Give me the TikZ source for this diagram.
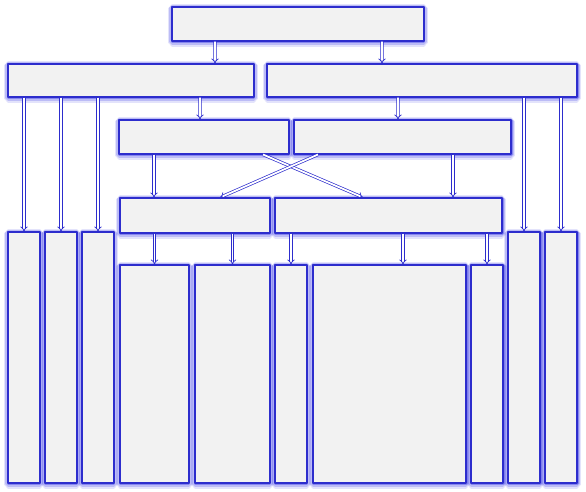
\documentclass[tikz,border=0pt]{standalone}
\usetikzlibrary{arrows.meta}
\definecolor{edgeblue}{RGB}{45,45,205}
\definecolor{glowblue}{RGB}{70,70,230}
\definecolor{boxgray}{RGB}{242,242,242}
\begin{document}
\begin{tikzpicture}[>=latex,line join=bevel,
    glow/.style={preaction={draw=glowblue,line width=9pt,opacity=.15,transform canvas={yshift=-1.5bp}},
                 preaction={draw=glowblue,line width=6pt,opacity=.25,transform canvas={yshift=-1bp}},
                 preaction={draw=glowblue,line width=3pt,opacity=.45,transform canvas={yshift=-0.5bp}}},
    blk/.style={rectangle,draw=edgeblue,fill=boxgray,line width=1.1pt,inner sep=0pt,glow},
    tall/.style={blk,minimum width=32bp,minimum height=251bp},
    short/.style={blk,minimum height=218bp},
    arr/.style={draw=edgeblue,double=white,double distance=1.8pt,line width=0.7pt,
                -{Implies[scale=1.8]}},
  ]
    \useasboundingbox (0,0) rectangle (586bp,492bp);
    %%
    \node (top) at (298.0bp,468.0bp) [blk,minimum width=252bp,minimum height=34bp] {};
    \node (l2a) at (131.0bp,411.5bp) [blk,minimum width=246bp,minimum height=33bp] {};
    \node (l2b) at (422.0bp,411.5bp) [blk,minimum width=310bp,minimum height=33bp] {};
    \node (l3a) at (204.0bp,355.0bp) [blk,minimum width=170bp,minimum height=34bp] {};
    \node (l3b) at (402.5bp,355.0bp) [blk,minimum width=217bp,minimum height=34bp] {};
    \node (l4a) at (195.0bp,276.5bp) [blk,minimum width=150bp,minimum height=35bp] {};
    \node (l4b) at (388.5bp,276.5bp) [blk,minimum width=227bp,minimum height=35bp] {};
    %
    \node (b1) at (24.0bp,134.5bp) [tall] {};
    \node (b2) at (61.0bp,134.5bp) [tall] {};
    \node (b3) at (98.0bp,134.5bp) [tall] {};
    \node (b4) at (154.5bp,118.0bp) [short,minimum width=69bp] {};
    \node (b5) at (232.5bp,118.0bp) [short,minimum width=75bp] {};
    \node (b6) at (291.0bp,118.0bp) [short,minimum width=32bp] {};
    \node (b7) at (389.5bp,118.0bp) [short,minimum width=153bp] {};
    \node (b8) at (487.0bp,118.0bp) [short,minimum width=32bp] {};
    \node (b9) at (524.0bp,134.5bp) [tall] {};
    \node (b10) at (561.0bp,134.5bp) [tall] {};
    %
    \draw [arr] ([xshift=-83bp]top.south) -- ([xshift=84bp]l2a.north);
    \draw [arr] ([xshift=84bp]top.south) -- ([xshift=-40bp]l2b.north);
    \draw [arr] ([xshift=69bp]l2a.south) -- ([xshift=-4bp]l3a.north);
    \draw [arr] ([xshift=-24bp]l2b.south) -- ([xshift=-4.5bp]l3b.north);
    \draw [arr] (l2a.south -| b1.north) -- (b1.north);
    \draw [arr] (l2a.south -| b2.north) -- (b2.north);
    \draw [arr] (l2a.south -| b3.north) -- (b3.north);
    \draw [arr] (l2b.south -| b9.north) -- (b9.north);
    \draw [arr] (l2b.south -| b10.north) -- (b10.north);
    \draw [arr] ([xshift=-50bp]l3a.south) -- ([xshift=-41bp]l4a.north);
    \draw [arr] ([xshift=50.5bp]l3b.south) -- ([xshift=64.5bp]l4b.north);
    \draw [arr] ([xshift=59bp]l3a.south) -- ([xshift=-25.5bp]l4b.north);
    \draw [arr] ([xshift=-84.5bp]l3b.south) -- ([xshift=25bp]l4a.north);
    \draw [arr] (l4a.south -| b4.north) -- (b4.north);
    \draw [arr] (l4a.south -| b5.north) -- (b5.north);
    \draw [arr] (l4b.south -| b6.north) -- (b6.north);
    \draw [arr] ([xshift=14.5bp]l4b.south) -- ([xshift=13.5bp]b7.north);
    \draw [arr] (l4b.south -| b8.north) -- (b8.north);
    %
\end{tikzpicture}
\end{document}
